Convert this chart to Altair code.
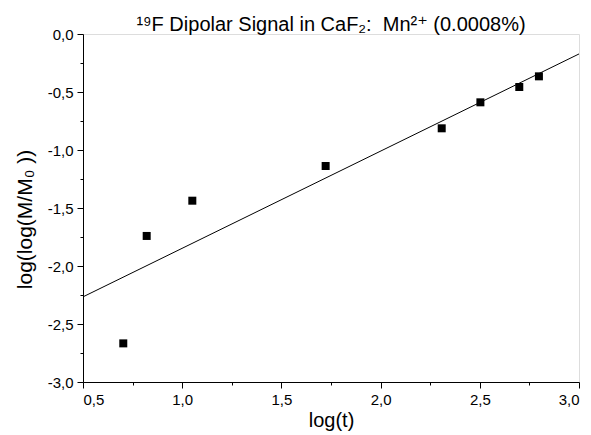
import altair as alt
import pandas as pd

# data
log_t = [0.703, 0.821, 1.051, 1.723, 2.308, 2.503, 2.699, 2.798]
loglog_m = [-2.667, -1.741, -1.437, -1.138, -0.813, -0.589, -0.457, -0.365]
fit_x = [0.5, 3.0]
fit_y = [-2.266, -0.172]

x_major = [0.5, 1.0, 1.5, 2.0, 2.5, 3.0]
x_minor = [0.75, 1.25, 1.75, 2.25, 2.75]
y_major = [-3.0, -2.5, -2.0, -1.5, -1.0, -0.5, 0.0]
y_minor = [-2.75, -2.25, -1.75, -1.25, -0.75, -0.25]

title_text = "¹⁹F Dipolar Signal in CaF₂:\u00a0 Mn²⁺ (0.0008%)"
x_title = "log(t)"
y_title = "log(log(M/M₀\u00a0))"

pts = pd.DataFrame({"x": log_t, "y": loglog_m})
fit = pd.DataFrame({"x": fit_x, "y": fit_y})

FONT = "Liberation Sans, DejaVu Sans"
label_expr = "replace(replace(format(datum.value, '.1f'), '.', ','), '\u2212', '-')"

xs = alt.Scale(domain=[0.5, 3.0], nice=False, zero=False)
ys = alt.Scale(domain=[-3.0, 0.0], nice=False, zero=False)

common = dict(domainColor="black", domainWidth=1, tickColor="black", tickWidth=1,
              labelColor="black", titleColor="black", labelFont=FONT, titleFont=FONT,
              grid=False)

x_axis_major = alt.Axis(values=x_major, labelExpr=label_expr, title=x_title, orient="bottom",
                        tickSize=6, labelFontSize=15, titleFontSize=20, labelPadding=4,
                        titlePadding=3, titleFontWeight="normal", **common)
y_axis_major = alt.Axis(values=y_major, labelExpr=label_expr, title=y_title, orient="left",
                        tickSize=6, labelFontSize=15, titleFontSize=21, labelPadding=4,
                        titlePadding=12, titleFontWeight="normal", titleY=185, **common)

x_axis_minor = alt.Axis(values=x_minor, labels=False, title=None, orient="bottom", domain=False,
                        tickSize=3, tickColor="black", tickWidth=1, grid=False)
y_axis_minor = alt.Axis(values=y_minor, labels=False, title=None, orient="left", domain=False,
                        tickSize=3, tickColor="black", tickWidth=1, grid=False)

line = alt.Chart(fit).mark_line(color="black", strokeWidth=1).encode(
    x=alt.X("x:Q", scale=xs, axis=x_axis_major),
    y=alt.Y("y:Q", scale=ys, axis=y_axis_major),
)

points = alt.Chart(pts).mark_square(color="black", size=64, opacity=1).encode(
    x=alt.X("x:Q", scale=xs, axis=x_axis_minor),
    y=alt.Y("y:Q", scale=ys, axis=y_axis_minor),
)

chart = alt.layer(line, points).resolve_axis(x="independent", y="independent").properties(
    width=496,
    height=348,
    autosize="none",
    padding={"left": 75, "top": 26, "right": 4, "bottom": 52},
    title=alt.TitleParams(title_text, font=FONT, fontSize=20, fontWeight="normal",
                          color="black", anchor="middle", offset=-8),
).configure_view(stroke=None).configure(background="white")

chart.save("out.html", embed_options={"renderer": "svg", "actions": False})
